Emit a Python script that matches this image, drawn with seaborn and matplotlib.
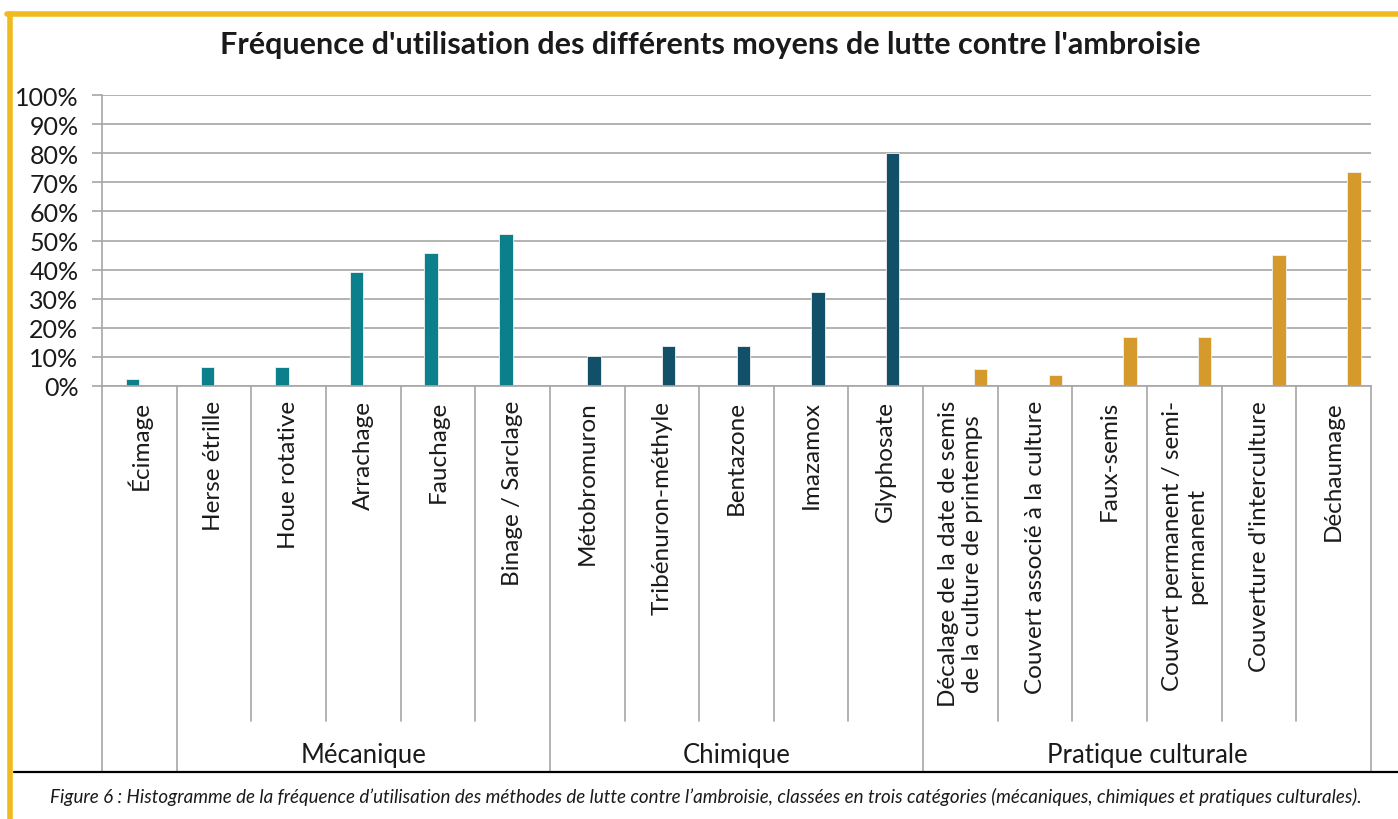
import pandas as pd
import matplotlib.pyplot as plt
import matplotlib.transforms as mtransforms
from matplotlib.lines import Line2D
import seaborn as sns

categories = ['Écimage', 'Herse étrille', 'Houe rotative', 'Arrachage', 'Fauchage',
              'Binage / Sarclage', 'Métobromuron', 'Tribénuron-méthyle', 'Bentazone',
              'Imazamox', 'Glyphosate',
              'Décalage de la date de semis\nde la culture de printemps',
              'Couvert associé à la culture', 'Faux-semis',
              'Couvert permanent / semi-\npermanent', "Couverture d'interculture",
              'Déchaumage']
valeurs = [2.4, 6.6, 6.6, 39.1, 45.7, 52.2, 10.2, 13.7, 13.7, 32.3, 80.0,
           5.8, 3.7, 16.8, 16.8, 45.1, 73.4]
groupes = ['Mécanique'] * 6 + ['Chimique'] * 5 + ['Pratique culturale'] * 6
# Excel layout: 4 series slots per category, the first one is empty
series = ['', 'Mécanique', 'Chimique', 'Pratique culturale']
couleurs = ['#ffffff', '#0b7f8c', '#124f68', '#d6992c']

# groupes affichés sous l'axe (début, fin en indices de catégories)
etiquettes_groupes = [('Mécanique', 1, 5), ('Chimique', 6, 10), ('Pratique culturale', 11, 16)]
separateurs_majeurs = [-0.5, 0.5, 5.5, 10.5, 16.5]

df = pd.DataFrame({'Moyen': categories, 'Fréquence': valeurs, 'Groupe': groupes})

sns.set_style('white')
plt.rcParams['font.family'] = ['Lato', 'DejaVu Sans']

fig = plt.figure(figsize=(13.98, 8.2), dpi=100)
ax = fig.add_axes([102 / 1398, 1 - 387 / 820, (1371 - 102) / 1398, (387 - 96) / 820])

sns.barplot(data=df, x='Moyen', y='Fréquence', hue='Groupe', hue_order=series,
            palette=couleurs, order=categories, width=0.72, dodge=True, saturation=1,
            legend=False, edgecolor='#f2f2f2', linewidth=0.6, ax=ax)

ax.set_xlim(-0.5, 16.5)
ax.set_ylim(0, 100)
ax.set_yticks(range(0, 101, 10))
ax.set_yticklabels([f'{v}%' for v in range(0, 101, 10)], fontsize=18, color='#1a1a1a')
ax.yaxis.grid(True, color='#a6a6a6', linewidth=1.2)
ax.set_axisbelow(True)
ax.tick_params(axis='y', length=7, color='#a6a6a6', width=1.2, pad=10, left=True)
ax.tick_params(axis='x', length=0, pad=10)
ax.set_xticks(range(len(categories)))
ax.set_xticklabels(categories, rotation=90, va='top', ha='center',
                   multialignment='center', fontsize=17.5, color='#1a1a1a')
ax.set_xlabel('')
ax.set_ylabel('')
for s in ['top', 'right']:
    ax.spines[s].set_visible(False)
for s in ['left', 'bottom']:
    ax.spines[s].set_color('#a6a6a6')
    ax.spines[s].set_linewidth(1.2)

# séparateurs des catégories sous l'axe
trans = mtransforms.blended_transform_factory(ax.transData, fig.transFigure)
y_axe = 1 - 387 / 820
for i in range(len(categories) + 1):
    x = i - 0.5
    bas = 1 - 773 / 820 if x in separateurs_majeurs else 1 - 722 / 820
    ax.add_line(Line2D([x, x], [y_axe, bas], transform=trans, color='#a6a6a6',
                       linewidth=1.2, clip_on=False))

for nom, debut, fin in etiquettes_groupes:
    ax.text((debut + fin) / 2, 1 - 756 / 820, nom, transform=trans, ha='center',
            va='center', fontsize=18.5, color='#1a1a1a')

fig.text(0.508, 1 - 45 / 820, "Fréquence d'utilisation des différents moyens de lutte contre l'ambroisie",
         ha='center', va='center', fontsize=22, fontweight='bold', color='#1a1a1a')

fig.add_artist(Line2D([14 / 1398, 1], [1 - 773 / 820, 1 - 773 / 820], color='black', linewidth=1.6))
fig.text(0.505, 1 - 797 / 820,
         "Figure 6 : Histogramme de la fréquence d’utilisation des méthodes de lutte contre l’ambroisie, "
         "classées en trois catégories (mécaniques, chimiques et pratiques culturales).",
         ha='center', va='center', fontsize=13.5, style='italic', color='#1a1a1a')

# cadre jaune
fig.add_artist(Line2D([7 / 1398, 1], [1 - 15 / 820, 1 - 15 / 820], color='#efbb1f', linewidth=4))
fig.add_artist(Line2D([10 / 1398, 10 / 1398], [0, 1 - 15 / 820], color='#efbb1f', linewidth=4))

plt.savefig('out.png', dpi=100)
plt.close()
